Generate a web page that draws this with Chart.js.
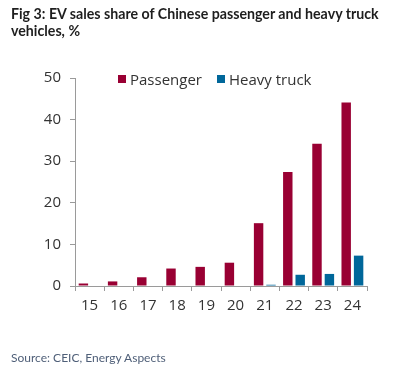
<!DOCTYPE html>
<html>
<head>
<meta charset="utf-8">
<script src="https://cdn.jsdelivr.net/npm/chart.js@4"></script>
<style>
  body { margin: 0; background: #fff; }
  #wrap { position: relative; width: 395px; height: 375px; overflow: hidden; }
  #title { position: absolute; left: 11px; top: 5px; width: 384px; font-family: Lato, sans-serif; font-weight: 700; font-size: 14.2px; line-height: 17px; color: #1e1e1e; }
  #source { position: absolute; left: 11px; top: 350px; font-family: Lato, sans-serif; font-size: 12px; color: #4f5f78; }
  #legend { position: absolute; left: 118px; top: 69px; font-family: "Open Sans", sans-serif; font-size: 15px; color: #333; display: flex; }
  #legend span.item { display: flex; align-items: center; margin-right: 15px; }
  #legend span.box { width: 8px; height: 8px; margin-right: 4px; display: inline-block; }
  #canvasBox { position: absolute; left: 0; top: 0; width: 395px; height: 375px; }
</style>
</head>
<body>
<div id="wrap">
  <div id="canvasBox"><canvas id="chart"></canvas></div>
  <div id="title">Fig 3: EV sales share of Chinese passenger and heavy truck vehicles, %</div>
  <div id="legend"></div>
  <div id="source">Source: CEIC, Energy Aspects</div>
</div>
<script>
const years = ['15', '16', '17', '18', '19', '20', '21', '22', '23', '24'];
const passenger = [0.6, 1.1, 2.1, 4.2, 4.6, 5.6, 15.1, 27.4, 34.2, 44.1];
const heavyTruck = [0, 0, 0, 0, 0, 0, 0.3, 2.7, 2.9, 7.3];
const seriesNames = ['Passenger', 'Heavy truck'];
const seriesColors = ['#990033', '#00679a'];
const yTicks = [0, 10, 20, 30, 40, 50];

// legend in html, sits inside the plot top
const legendEl = document.getElementById('legend');
seriesNames.forEach((n, i) => {
    legendEl.innerHTML += '<span class="item"><span class="box" style="background:' + seriesColors[i] + '"></span>' + n + '</span>';
});

const axisColor = '#9a9a9a';
const tickFont = { family: '"Open Sans", sans-serif', size: 15 };

new Chart(document.getElementById('chart'), {
    type: 'bar',
    data: {
        labels: years,
        datasets: [
            { label: seriesNames[0], data: passenger, backgroundColor: seriesColors[0] },
            { label: seriesNames[1], data: heavyTruck, backgroundColor: seriesColors[1] }
        ]
    },
    options: {
        responsive: true,
        maintainAspectRatio: false,
        animation: false,
        layout: { padding: { top: 78, right: 28, bottom: 0, left: 0 } },
        datasets: { bar: { categoryPercentage: 0.85, barPercentage: 0.76 } },
        plugins: { legend: { display: false }, tooltip: { enabled: false } },
        scales: {
            x: {
                grid: { display: true, drawOnChartArea: false, drawTicks: true, tickLength: 5, color: axisColor, offset: true },
                border: { display: true, color: axisColor },
                ticks: { color: '#333', font: tickFont, padding: 6, maxRotation: 0 },
                afterFit: s => { s.height = 89; }
            },
            y: {
                min: 0,
                max: 50,
                afterBuildTicks: s => { s.ticks = yTicks.map(v => ({ value: v })); },
                grid: { display: true, drawOnChartArea: false, drawTicks: true, tickLength: 5, color: axisColor },
                border: { display: true, color: axisColor },
                ticks: { color: '#333', font: tickFont, padding: 9 },
                afterFit: s => { s.width = 75; }
            }
        }
    }
});
</script>
</body>
</html>
